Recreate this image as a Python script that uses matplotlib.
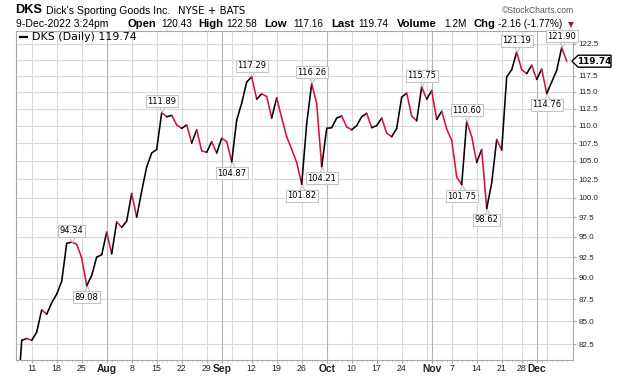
import numpy as np
import pandas as pd
import matplotlib
matplotlib.use('Agg')
import matplotlib.pyplot as plt
import matplotlib.transforms as mtransforms
from matplotlib.collections import LineCollection
from matplotlib.ticker import FixedLocator, FixedFormatter, NullLocator
from matplotlib.patches import Polygon
from matplotlib.lines import Line2D

W, H = 620, 376

# ---------------- data ----------------
holidays = ['2022-09-05', '2022-11-24']
jul = [75.0, 82.9, 83.1, 82.9, 83.8, 86.3, 85.8, 87.1, 88.1, 89.6, 94.2, 94.34,
       94.1, 92.4, 89.08, 90.3, 92.5, 92.8]
aug = [95.6, 92.9, 96.9, 96.2, 97.0, 100.6, 97.5, 100.9, 104.2, 106.1, 106.6,
       111.89, 111.3, 111.5, 110.1, 109.6, 110.1, 107.5, 109.4, 106.4, 106.2,
       107.7, 106.1]
sep = [108.2, 107.7, 104.87, 110.8, 113.3, 116.5, 117.29, 113.9, 114.7, 114.3,
       111.1, 114.1, 111.1, 108.4, 106.6, 104.8, 101.82, 110.3, 116.26, 113.2,
       104.21]
octo = [109.6, 109.7, 111.1, 111.4, 109.8, 109.4, 110.0, 111.3, 111.8, 109.7,
        110.0, 111.1, 108.9, 108.4, 109.6, 114.2, 114.8, 111.4, 110.7, 115.75,
        113.9]
nov = [115.2, 110.9, 112.1, 109.5, 107.9, 102.8, 101.75, 110.60, 108.4, 104.8,
       106.6, 98.62, 102.0, 108.0, 106.5, 117.3, 118.4, 121.19, 118.4, 117.8,
       119.1]
dec = [116.9, 118.5, 114.76, 116.5, 118.3, 121.90, 119.74]

peak_dates = ['2022-07-21', '2022-08-16', '2022-09-12', '2022-09-28',
              '2022-10-28', '2022-11-10', '2022-11-25', '2022-12-08']
low_dates = ['2022-07-26', '2022-09-06', '2022-09-26', '2022-09-30',
             '2022-11-09', '2022-11-16', '2022-12-05']

tick_dates = ['2022-07-11', '2022-07-18', '2022-07-25', '2022-08-01', '2022-08-08',
              '2022-08-15', '2022-08-22', '2022-08-29', '2022-09-01', '2022-09-12',
              '2022-09-19', '2022-09-26', '2022-10-03', '2022-10-10', '2022-10-17',
              '2022-10-24', '2022-11-01', '2022-11-07', '2022-11-14', '2022-11-21',
              '2022-11-28', '2022-12-01']
tick_labels = ['11', '18', '25', 'Aug', '8', '15', '22', '29', 'Sep', '12', '19',
               '26', 'Oct', '10', '17', '24', 'Nov', '7', '14', '21', '28', 'Dec']
month_ticks = ['Aug', 'Sep', 'Oct', 'Nov', 'Dec']
grid_only_dates = ['2022-09-06', '2022-10-31', '2022-12-05']

y_ticks = [82.5, 85.0, 87.5, 90.0, 92.5, 95.0, 97.5, 100.0, 102.5, 105.0, 107.5,
           110.0, 112.5, 115.0, 117.5, 120.0, 122.5]
y_tick_labels = ['82.5', '85.0', '87.5', '90.0', '92.5', '95.0', '97.5', '100.0',
                 '102.5', '105.0', '107.5', '110.0', '112.5', '115.0', '117.5',
                 '', '122.5']

last_price = 119.74

# ---------------- build ----------------
dates = pd.bdate_range('2022-07-06', '2022-12-09')
dates = dates[~dates.isin(pd.to_datetime(holidays))]
prices = np.array(jul + aug + sep + octo + nov + dec)
assert len(prices) == len(dates)
x = np.arange(len(dates))
idx = {d.strftime('%Y-%m-%d'): i for i, d in enumerate(dates)}

plt.rcParams['font.family'] = ['DejaVu Sans']
fig = plt.figure(figsize=(W / 100, H / 100), dpi=100)
fig.patch.set_facecolor('white')
renderer = fig.canvas.get_renderer()

L, R, T, B = 16, 573, 31, 360
ax = fig.add_axes([L / W, 1 - B / H, (R - L) / W, (B - T) / H])
ax.set_yscale('log')
ax.set_xlim(-0.14, 111.26)
ax.set_ylim(80.78, 124.6)

GRID = '#dadada'
MGRID = '#b4b4b4'
SPINE = '#a8a8a8'

# grid
for v in y_ticks:
    ax.axhline(v, color=GRID, lw=0.8, zorder=0)
for d, lab in zip(tick_dates, tick_labels):
    ax.axvline(idx[d], color=MGRID if lab in month_ticks else GRID, lw=0.8, zorder=0)
for d in grid_only_dates:
    ax.axvline(idx[d], color=GRID, lw=0.8, zorder=0)

# price line, red on down moves
segs = [[(x[i], prices[i]), (x[i + 1], prices[i + 1])] for i in range(len(x) - 1)]
cols = ['#d3143c' if prices[i + 1] < prices[i] else '#000000' for i in range(len(x) - 1)]
lc = LineCollection(segs, colors=cols, linewidths=1.15, capstyle='round',
                    joinstyle='round', zorder=3)
ax.add_collection(lc)

# annotations
def callout(d, above):
    i = idx[d]
    p = prices[i]
    sgn = 1 if above else -1
    off = mtransforms.offset_copy(ax.transData, fig=fig, x=0, y=sgn * 3.2, units='points')
    ax.plot([i], [p], marker='v' if above else '^', ms=5.5, mfc='white',
            mec='#c4c4c4', mew=0.8, transform=off, zorder=4, clip_on=False)
    ax.annotate(f'{p:.2f}', xy=(i, p), xytext=(0, sgn * 8.2), textcoords='offset points',
                ha='center', va='center', fontsize=6.0, color='black', zorder=5,
                bbox=dict(boxstyle='square,pad=0.18', fc='white', ec='#c4c4c4', lw=0.8),
                annotation_clip=False)

for d in peak_dates:
    callout(d, True)
for d in low_dates:
    callout(d, False)

# axes styling
for s in ax.spines.values():
    s.set_color(SPINE)
    s.set_linewidth(0.8)
ax.yaxis.tick_right()
ax.yaxis.set_major_locator(FixedLocator(y_ticks))
ax.yaxis.set_major_formatter(FixedFormatter(y_tick_labels))
ax.yaxis.set_minor_locator(NullLocator())
ax.tick_params(axis='y', which='major', length=2.5, color=SPINE, pad=1.6,
               labelsize=5.8, labelcolor='#222222')
for t in ax.get_yticklabels():
    t.set_family('Liberation Sans')

ax.xaxis.set_major_locator(FixedLocator([idx[d] for d in tick_dates]))
ax.set_xticklabels(tick_labels)
ax.xaxis.set_minor_locator(FixedLocator(x))
ax.tick_params(axis='x', which='major', length=2, color=SPINE, pad=1.2,
               labelsize=6.3, labelcolor='#222222')
ax.tick_params(axis='x', which='minor', length=1.5, color='#c8c8c8')
for t in ax.get_xticklabels():
    t.set_family('Liberation Sans')
    if t.get_text() in month_ticks:
        t.set_fontweight('bold')
        t.set_fontsize(7.4)

# last price tag on the right axis
disp = ax.transData.transform((0, last_price))
yp = H - disp[1]
def fc(px, py):
    return (px / W, 1 - py / H)
poly = Polygon([fc(572, yp), fc(578, yp - 6), fc(611, yp - 6), fc(611, yp + 6),
                fc(578, yp + 6)], closed=True, transform=fig.transFigure,
               fc='white', ec='black', lw=1.0, zorder=10)
fig.patches.append(poly)
fig.text(594.5 / W, 1 - yp / H, f'{last_price:.2f}', ha='center', va='center',
         fontsize=6.4, fontweight='bold', color='black', zorder=11)

# text fitted to a pixel span
def fit(x0, x1, yc, s, size, bold=False, color='black', family='Liberation Sans'):
    t = fig.text(x0 / W, 1 - yc / H, s, ha='left', va='center', fontsize=size,
                 fontweight='bold' if bold else 'normal', color=color, family=family)
    w = t.get_window_extent(renderer).width
    if w > 0:
        t.set_fontsize(size * (x1 - x0) / w)
    return t

def put(px, py, s, size, bold=False, color='black', family='Liberation Sans'):
    return fig.text(px / W, 1 - py / H, s, ha='left', va='center', fontsize=size,
                    fontweight='bold' if bold else 'normal', color=color, family=family)

# legend inside plot
fig.lines.append(Line2D([20 / W, 27 / W], [1 - 36.5 / H, 1 - 36.5 / H], color='black',
                        lw=1.6, transform=fig.transFigure))
fit(31.5, 136, 36.5, 'DKS (Daily) 119.74', 7.0, family='DejaVu Sans')

# header
fit(15, 42, 10, 'DKS', 9.6, bold=True)
fit(46.5, 170.5, 10.5, "Dick's Sporting Goods Inc.", 7.0)
fit(177.5, 244, 10.5, 'NYSE + BATS', 6.6, family='DejaVu Sans')
fit(502, 575, 10.5, '\u00a9StockCharts.com', 6.8, color='#555555')

row = 24
VAL = 7.2
LAB = 8.1
fit(16, 108, row, '9-Dec-2022 3:24pm', VAL)
put(127.5, row, 'Open', LAB, bold=True)
put(161, row, '120.43', VAL)
put(198.5, row, 'High', LAB, bold=True)
put(226, row, '122.58', VAL)
put(264.5, row, 'Low', LAB, bold=True)
put(293, row, '117.16', VAL)
put(331, row, 'Last', LAB, bold=True)
put(358.5, row, '119.74', VAL)
put(396.5, row, 'Volume', LAB, bold=True)
put(444, row, '1.2M', VAL)
put(473.5, row, 'Chg', LAB, bold=True)
put(498, row, '-2.16 (-1.77%)', VAL)
put(567.5, row + 0.5, '\u25bc', 5.5, color='#9e1b32', family='DejaVu Sans')

fig.savefig('out.png', dpi=100, facecolor='white')
